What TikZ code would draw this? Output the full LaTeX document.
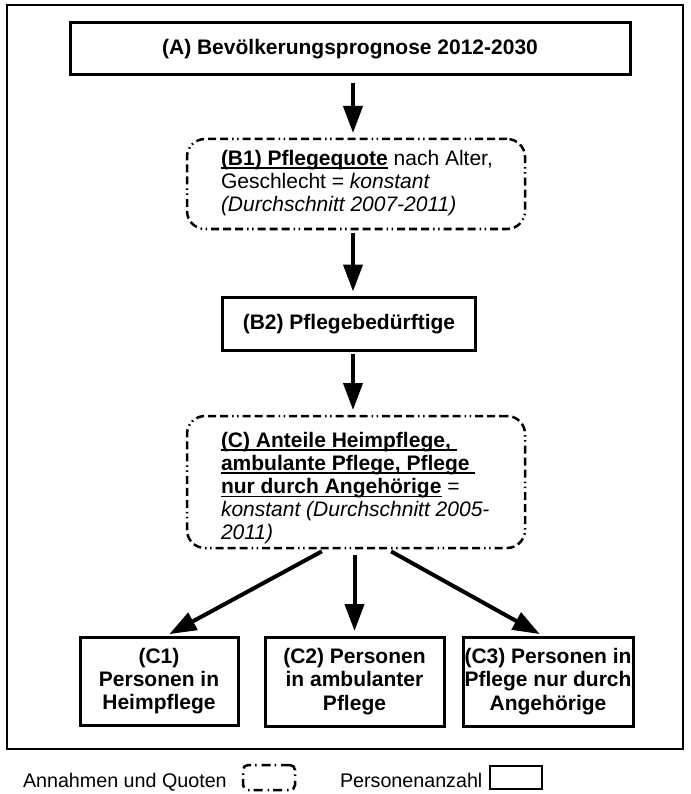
\documentclass[tikz,border=0pt]{standalone}
\usepackage{fontspec}
\setmainfont{Liberation Sans}
\usetikzlibrary{arrows.meta,calc}
% underline drawn as a rule just below the baseline
\newcommand{\myul}[1]{\leavevmode\setbox0\hbox{#1}\rlap{\vrule width\wd0 height -2.2pt depth 3.9pt}\box0\relax}
\newcommand{\bigfont}{\fontsize{21}{23.2}\selectfont}
\newcommand{\legendfont}{\fontsize{19.7}{22}\selectfont}
\tikzset{
  every node/.style={font=\bigfont, inner sep=0pt, outer sep=0pt},
  solidbox/.style={draw, line width=3pt, rectangle, align=center},
  quotebox/.style={draw, line width=2.5pt, rectangle, rounded corners=18pt,
    dash pattern=on 8pt off 4pt on 8pt off 4pt on 8pt off 4pt on 1.5pt off 3.5pt on 1.5pt off 4pt},
  textblock/.style={align=left, anchor=west},
  arr/.style={line width=4pt, -{Triangle[length=27pt,width=19pt]}},
}
\begin{document}
\begin{tikzpicture}[x=1pt,y=-1pt]
  \useasboundingbox (0,0) rectangle (690,794);
  % outer frame
  \draw[line width=2pt] (7,5) rectangle (683,749);

  % boxes
  \node[solidbox, minimum width=560pt, minimum height=52pt] (A) at (350,49)
    {\textbf{(A) Bevölkerungsprognose 2012-2030}};
  \node[quotebox, minimum width=338pt, minimum height=90pt] (B1) at (356,184) {};
  \node[textblock] (B1t) at (221,183)
    {\myul{\textbf{(B1) Pflegequote}} nach Alter,\\
     Geschlecht = \textit{konstant}\\
     \textit{(Durchschnitt 2007-2011)}};
  \node[solidbox, minimum width=253pt, minimum height=53pt] (B2) at (349,324)
    {\textbf{(B2) Pflegebedürftige}};
  \node[quotebox, minimum width=338pt, minimum height=132pt] (C) at (356,482) {};
  \node[textblock] (Ct) at (221,488)
    {\myul{\textbf{(C) Anteile Heimpflege,\ }}\\
     \myul{\textbf{ambulante Pflege, Pflege\ }}\\
     \myul{\textbf{nur durch Angehörige}} =\\
     \textit{konstant (Durchschnitt 2005-}\\
     \textit{2011)}};
  \node[solidbox, minimum width=158pt, minimum height=88pt] (C1) at (159,681)
    {\textbf{(C1)}\\\textbf{Personen in}\\\textbf{Heimpflege}};
  \node[solidbox, minimum width=179pt, minimum height=89pt] (C2) at (354.5,681.5)
    {\textbf{(C2) Personen}\\\textbf{in ambulanter}\\\textbf{Pflege}};
  \node[solidbox, minimum width=170pt, minimum height=89pt] (C3) at (548,681.5)
    {\textbf{(C3) Personen in}\\\textbf{Pflege nur durch}\\\textbf{Angehörige}};

  % connectors
  \draw[arr, shorten <=8pt, shorten >=6pt] (A.south -| 353,0) -- (B1.north -| 353,0);
  \draw[arr, shorten <=4pt, shorten >=6pt] (B1.south -| 353,0) -- (B2.north -| 353,0);
  \draw[arr, shorten <=3pt, shorten >=6pt] (B2.south -| 353,0) -- (C.north -| 353,0);
  \draw[arr, shorten <=7pt, shorten >=6pt] ([xshift=-28pt]C.south) -- ([xshift=5pt]C1.north);
  \draw[arr, shorten <=7pt, shorten >=6pt] (C.south -| C2.north) -- (C2.north);
  \draw[arr, shorten <=7pt, shorten >=6pt] ([xshift=29pt]C.south) -- ([xshift=-3pt]C3.north);

  % legend
  \node[font=\legendfont, anchor=base west] (L1) at (23,787) {Annahmen und Quoten};
  \node[draw, line width=2.5pt, rounded corners=5pt, minimum width=52pt, minimum height=25pt,
    dash pattern=on 9pt off 5pt on 1.5pt off 4pt] (L1box) at (269,777.5) {};
  \node[font=\legendfont, anchor=base west] (L2) at (340,787) {Personenanzahl};
  \node[draw, line width=2.5pt, minimum width=52pt, minimum height=23pt] (L2box) at (516,777.5) {};
\end{tikzpicture}
\end{document}
